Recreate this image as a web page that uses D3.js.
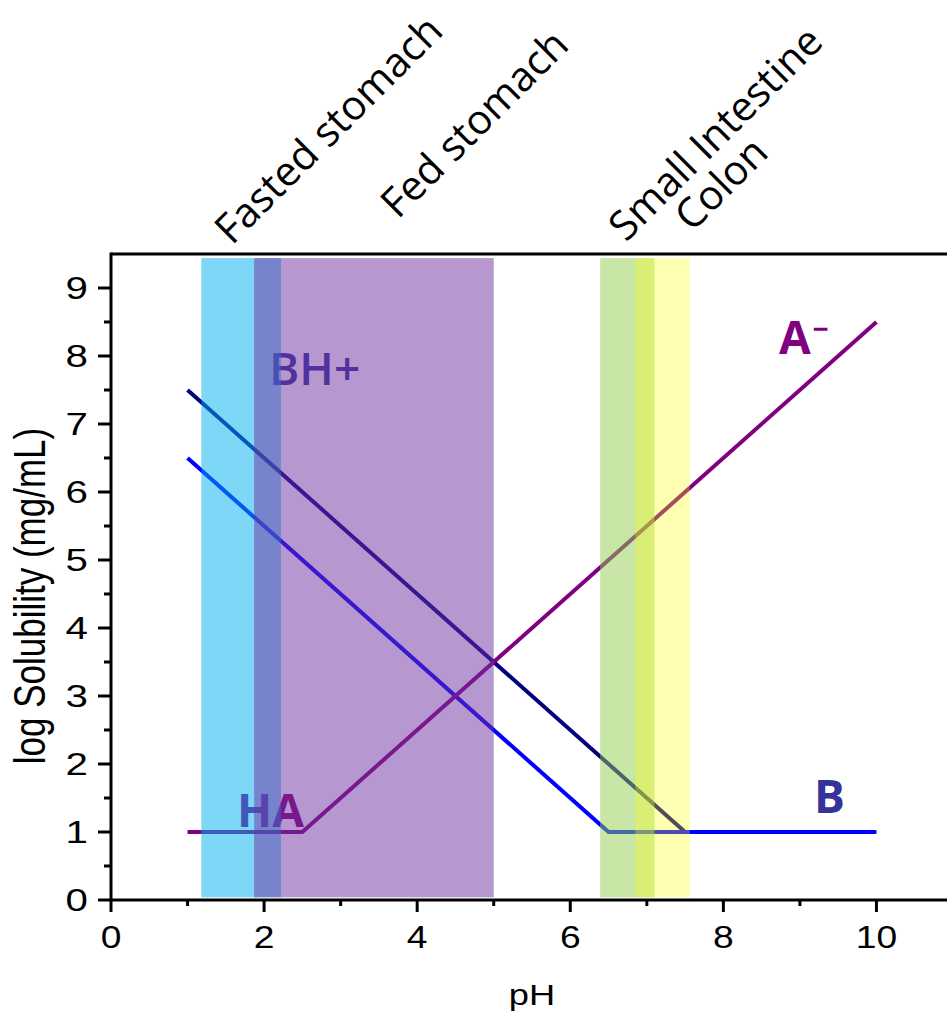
<!DOCTYPE html>
<html>
<head>
<meta charset="utf-8">
<script src="https://cdn.jsdelivr.net/npm/d3@7"></script>
<style>
  html, body { margin: 0; padding: 0; background: #fff; }
  svg { display: block; }
</style>
</head>
<body>
<svg id="chart" width="947" height="1013"></svg>
<script>
// pH ranges of the GI regions
const regionNames = ['Fasted stomach', 'Fed stomach', 'Small Intestine', 'Colon'];
const regionFrom = [1.18, 1.87, 6.39, 6.85];
const regionTo = [2.22, 5.0, 7.1, 7.56];
const regionColors = ['#00b0f0', '#7030a0', '#92d050', '#ffff00'];
const regionOpacity = [0.5, 0.5, 0.5, 0.3];
const regionTop = 9.44;
const regionBottom = 0.04;

// solubility profiles (pH, log S)
const bhPlusLine = [[1, 7.5], [7.5, 1]];
const bLine = [[1, 6.5], [6.5, 1], [10, 1]];
const haLine = [[1, 1], [2.5, 1], [10, 8.5]];

const xTicks = [0, 2, 4, 6, 8, 10];
const xMinorTicks = [1, 3, 5, 7, 9];
const yTicks = [0, 1, 2, 3, 4, 5, 6, 7, 8, 9];
const yMinorTicks = [0.5, 1.5, 2.5, 3.5, 4.5, 5.5, 6.5, 7.5, 8.5];

const LEFT = 111, RIGHT = 953, TOP = 254, BOTTOM = 900;

const svg = d3.select('#chart');
const x = d3.scaleLinear().domain([0, 11]).range([LEFT, RIGHT]);
const y = d3.scaleLinear().domain([0, 9.5]).range([BOTTOM, TOP]);
const line = d3.line().x(d => x(d[0])).y(d => y(d[1]));

// lines first, bands are laid over them
const lines = [
  { pts: bhPlusLine, color: '#000080' },
  { pts: bLine, color: '#0000ff' },
  { pts: haLine, color: '#800080' },
];
svg.append('g').selectAll('path').data(lines).join('path')
  .attr('d', d => line(d.pts))
  .attr('fill', 'none')
  .attr('stroke', d => d.color)
  .attr('stroke-width', 4);

// species labels
const lbl = svg.append('g').attr('font-family', '"Open Sans", sans-serif').attr('font-size', 46);
lbl.append('text').attr('x', 269).attr('y', 385).attr('font-weight', 600).attr('fill', '#333399').text('BH+');
lbl.append('text').attr('x', 237).attr('y', 827).attr('font-weight', 700).attr('fill', '#800080').text('HA');
lbl.append('text').attr('x', 814).attr('y', 813).attr('font-weight', 700).attr('fill', '#333399').text('B');
const am = lbl.append('text').attr('x', 779).attr('y', 354).attr('font-weight', 700).attr('fill', '#800080');
am.append('tspan').text('A');
am.append('tspan').attr('font-size', 28).attr('dy', -15).attr('dx', 2).text('\u2212');

// region bands
const regions = regionNames.map((n, i) => ({ name: n, from: regionFrom[i], to: regionTo[i], color: regionColors[i], op: regionOpacity[i] }));
svg.append('g').selectAll('rect').data(regions).join('rect')
  .attr('x', d => x(d.from))
  .attr('width', d => x(d.to) - x(d.from))
  .attr('y', y(regionTop))
  .attr('height', y(regionBottom) - y(regionTop))
  .attr('fill', d => d.color)
  .attr('fill-opacity', d => d.op);

// axes
const ax = svg.append('g').attr('stroke', '#000').attr('stroke-width', 3);
ax.append('line').attr('x1', x(0)).attr('x2', x(11)).attr('y1', y(0)).attr('y2', y(0));
ax.append('line').attr('x1', x(0)).attr('x2', x(11)).attr('y1', y(9.5)).attr('y2', y(9.5));
ax.append('line').attr('x1', x(0)).attr('x2', x(0)).attr('y1', y(0) + 1.5).attr('y2', y(9.5) - 1.5);
ax.selectAll('.xt').data(xTicks).join('line').attr('x1', d => x(d)).attr('x2', d => x(d)).attr('y1', y(0)).attr('y2', y(0) + 12);
ax.selectAll('.xm').data(xMinorTicks).join('line').attr('x1', d => x(d)).attr('x2', d => x(d)).attr('y1', y(0)).attr('y2', y(0) + 6);
ax.selectAll('.yt').data(yTicks).join('line').attr('y1', d => y(d)).attr('y2', d => y(d)).attr('x1', x(0)).attr('x2', x(0) - 13);
ax.selectAll('.ym').data(yMinorTicks).join('line').attr('y1', d => y(d)).attr('y2', d => y(d)).attr('x1', x(0)).attr('x2', x(0) - 7);

const tl = svg.append('g').attr('font-family', '"Liberation Sans", Arial, sans-serif').attr('font-size', 31).attr('fill', '#000');
tl.selectAll('.xl').data(xTicks).join('text')
  .attr('transform', d => `translate(${x(d)},${y(0) + 48}) scale(1.2,1)`)
  .attr('text-anchor', 'middle').text(d => d);
tl.selectAll('.yl').data(yTicks).join('text')
  .attr('transform', d => `translate(${x(0) - 23},${y(d) + 11}) scale(1.3,1)`)
  .attr('text-anchor', 'end').text(d => d);
tl.append('text').attr('transform', `translate(532,1005) scale(1.25,1)`).attr('text-anchor', 'middle').attr('font-size', 29).text('pH');
tl.append('text').attr('transform', `translate(45,596) rotate(-90) scale(1,1.25)`).attr('text-anchor', 'middle').attr('font-size', 35).text('log Solubility (mg/mL)');

// region names, slanted
const anchors = [[232, 246], [398, 220], [626, 243], [692, 233]];
svg.append('g').attr('font-family', '"Open Sans", sans-serif').attr('font-size', 41).attr('fill', '#000')
  .selectAll('text').data(regions).join('text')
  .attr('transform', (d, i) => `translate(${anchors[i][0]},${anchors[i][1]}) rotate(-45)`)
  .text(d => d.name);
</script>
</body>
</html>
